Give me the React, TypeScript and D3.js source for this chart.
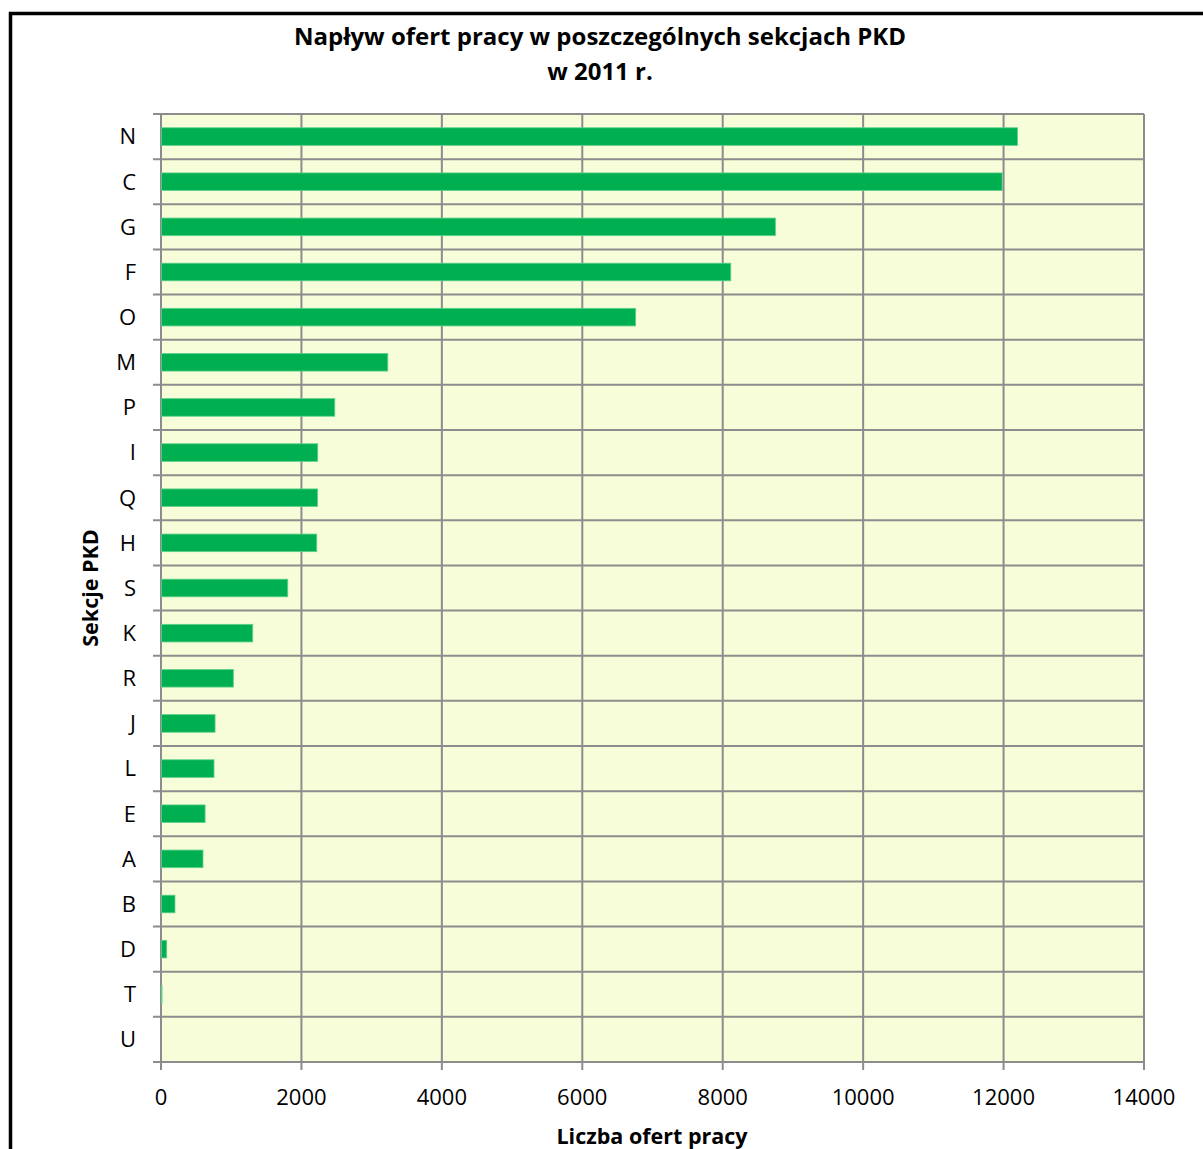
import React, { useRef, useEffect } from 'react';
import * as d3 from 'd3';

const categories = ['N', 'C', 'G', 'F', 'O', 'M', 'P', 'I', 'Q', 'H', 'S', 'K', 'R', 'J', 'L', 'E', 'A', 'B', 'D', 'T', 'U'];
const offers = [12200, 11980, 8750, 8115, 6760, 3230, 2475, 2232, 2230, 2218, 1805, 1306, 1030, 770, 755, 628, 598, 199, 81, 15, 0];
const xTicks = [0, 2000, 4000, 6000, 8000, 10000, 12000, 14000];

const titleLines = ['Napływ ofert pracy w poszczególnych sekcjach PKD', 'w 2011 r.'];
const xTitle = 'Liczba ofert pracy';
const yTitle = 'Sekcje PKD';

const W = 1203;
const H = 1149;
const FONT = '"Open Sans", "Noto Sans", sans-serif';

const App: React.FC = () => {
    const svgRef = useRef<SVGSVGElement | null>(null);

    useEffect(() => {
        if (!svgRef.current) return;
        const svg = d3.select(svgRef.current);
        svg.selectAll('*').remove();

        const left = 161, right = 1144, top = 114, bottom = 1062;
        const grid = '#8c8c8c';

        // outer frame (runs off the page on the right and bottom)
        svg.append('rect')
            .attr('x', 10.5).attr('y', 13.5)
            .attr('width', W + 20).attr('height', H + 20)
            .attr('fill', '#fff')
            .attr('stroke', '#000').attr('stroke-width', 3.5);

        const x = d3.scaleLinear().domain([0, 14000]).range([left, right]);
        const y = d3.scaleBand().domain(categories).range([top, bottom]).paddingInner(0.61).paddingOuter(0.305);

        // plot background
        svg.append('rect')
            .attr('x', left).attr('y', top)
            .attr('width', right - left).attr('height', bottom - top)
            .attr('fill', '#f7fcd9');

        const step = (bottom - top) / categories.length;
        const hLines = d3.range(categories.length + 1).map(i => top + i * step);

        // horizontal grid lines + left ticks
        svg.append('g').selectAll('line')
            .data(hLines)
            .enter().append('line')
            .attr('x1', left - 8).attr('x2', right)
            .attr('y1', d => d).attr('y2', d => d)
            .attr('stroke', grid).attr('stroke-width', 2);

        // vertical grid lines + bottom ticks
        svg.append('g').selectAll('line')
            .data(xTicks)
            .enter().append('line')
            .attr('x1', d => x(d)).attr('x2', d => x(d))
            .attr('y1', top).attr('y2', bottom + 8)
            .attr('stroke', grid).attr('stroke-width', 2);

        // bars
        svg.append('g').selectAll('rect')
            .data(categories)
            .enter().append('rect')
            .attr('x', x(0) + 0.5)
            .attr('y', d => y(d)!)
            .attr('width', (d, i) => Math.max(0, x(offers[i]) - x(0) - 0.5))
            .attr('height', y.bandwidth())
            .attr('fill', '#00b050')
            .attr('stroke', '#5fd08e')
            .attr('stroke-width', 0.8);

        // category labels
        svg.append('g').selectAll('text')
            .data(categories)
            .enter().append('text')
            .attr('x', 136)
            .attr('y', d => y(d)! + y.bandwidth() / 2)
            .attr('dy', '0.36em')
            .attr('text-anchor', 'end')
            .style('font-family', FONT)
            .style('font-size', '22px')
            .attr('fill', '#000')
            .text(d => d);

        // x tick labels
        svg.append('g').selectAll('text')
            .data(xTicks)
            .enter().append('text')
            .attr('x', d => x(d))
            .attr('y', 1097)
            .attr('dy', '0.36em')
            .attr('text-anchor', 'middle')
            .style('font-family', FONT)
            .style('font-size', '22px')
            .attr('fill', '#000')
            .text(d => String(d));

        // title
        svg.append('g').selectAll('text')
            .data(titleLines)
            .enter().append('text')
            .attr('x', 600)
            .attr('y', (d, i) => 36 + i * 35)
            .attr('dy', '0.36em')
            .attr('text-anchor', 'middle')
            .style('font-family', FONT)
            .style('font-size', '24px')
            .style('font-weight', 'bold')
            .attr('fill', '#000')
            .text(d => d);

        svg.append('text')
            .attr('x', 652).attr('y', 1136)
            .attr('dy', '0.36em')
            .attr('text-anchor', 'middle')
            .style('font-family', FONT)
            .style('font-size', '21.5px')
            .style('font-weight', 'bold')
            .text(xTitle);

        svg.append('text')
            .attr('transform', 'translate(90, 588) rotate(-90)')
            .attr('dy', '0.36em')
            .attr('text-anchor', 'middle')
            .style('font-family', FONT)
            .style('font-size', '21.5px')
            .style('font-weight', 'bold')
            .text(yTitle);
    }, []);

    return (
        <div style={{ position: 'absolute', left: 0, top: 0, width: W, height: H, overflow: 'hidden' }}>
            <svg ref={svgRef} width={W} height={H} style={{ display: 'block', background: '#fff' }}></svg>
        </div>
    );
};

export default App;
